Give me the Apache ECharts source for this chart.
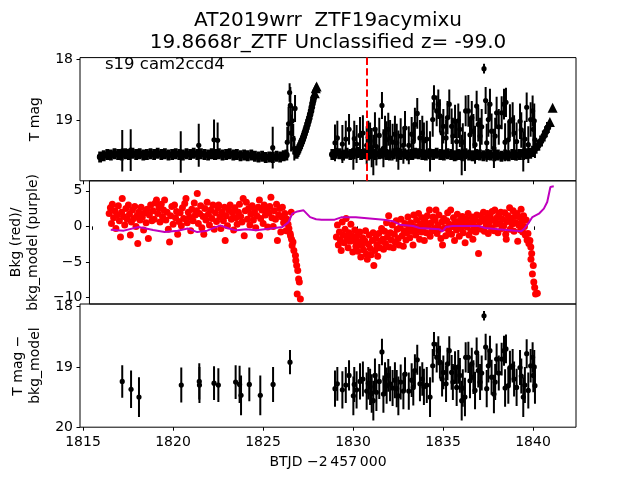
<!DOCTYPE html>
<html><head><meta charset="utf-8">
<script src="https://cdn.jsdelivr.net/npm/echarts@6/dist/echarts.min.js"></script>
<style>html,body{margin:0;padding:0;background:#fff}#c{width:640px;height:480px}</style>
</head><body><div id="c"></div>
<script>
// ---- tick labels ----
const xTicks = [1815, 1820, 1825, 1830, 1835, 1840];
const magTicksTop = [18, 19];
const bkgTicks = [-10, -5, 0, 5];
const magTicksBottom = [18, 19, 20];
const eventTime = 1830.76;
const bandErr = 0.09;

// ---- top panel: quiescent band [t, mag] ----
const band1 = [[1815.95,19.59],[1816.15,19.57],[1816.35,19.55],[1816.55,19.56],[1816.75,19.54],[1816.95,19.55],[1817.15,19.56],[1817.35,19.54],[1817.55,19.55],[1817.75,19.53],[1817.95,19.55],[1818.15,19.54],[1818.35,19.56],[1818.55,19.55],[1818.75,19.54],[1818.95,19.55],[1819.15,19.53],[1819.35,19.55],[1819.55,19.54],[1819.75,19.56],[1819.95,19.55],[1820.15,19.54],[1820.35,19.55],[1820.55,19.56],[1820.75,19.54],[1820.95,19.55],[1821.15,19.53],[1821.35,19.55],[1821.55,19.54],[1821.75,19.55],[1821.95,19.56],[1822.15,19.54],[1822.35,19.55],[1822.55,19.54],[1822.75,19.56],[1822.95,19.55],[1823.15,19.54],[1823.35,19.56],[1823.55,19.55],[1823.75,19.57],[1823.95,19.56],[1824.15,19.57],[1824.35,19.56],[1824.55,19.58],[1824.75,19.59],[1824.95,19.58],[1825.15,19.6],[1825.35,19.59],[1825.55,19.6],[1825.75,19.58],[1825.95,19.59],[1826.15,19.57],[1826.3,19.56]];
const band2 = [[1828.85,19.55],[1829.05,19.53],[1829.25,19.54],[1829.45,19.56],[1829.65,19.53],[1829.85,19.55],[1830.05,19.54],[1830.25,19.52],[1830.45,19.55],[1830.65,19.54],[1830.85,19.56],[1831.05,19.53],[1831.25,19.55],[1831.45,19.54],[1831.65,19.53],[1831.85,19.55],[1832.05,19.56],[1832.25,19.54],[1832.45,19.53],[1832.65,19.55],[1832.85,19.54],[1833.05,19.56],[1833.25,19.55],[1833.45,19.53],[1833.65,19.54],[1833.85,19.55],[1834.05,19.56],[1834.25,19.54],[1834.45,19.55],[1834.65,19.53],[1834.85,19.55],[1835.05,19.56],[1835.25,19.54],[1835.45,19.55],[1835.65,19.57],[1835.85,19.55],[1836.05,19.56],[1836.25,19.54],[1836.45,19.56],[1836.65,19.57],[1836.85,19.55],[1837.05,19.56],[1837.25,19.57],[1837.45,19.55],[1837.65,19.56],[1837.85,19.57],[1838.05,19.56],[1838.25,19.58],[1838.45,19.56],[1838.65,19.57],[1838.85,19.55],[1839.05,19.56],[1839.25,19.55]];
const rise1 = [[1826.87,19.53],[1826.92,19.5],[1826.97,19.47],[1827.02,19.44],[1827.07,19.4],[1827.12,19.37],[1827.17,19.33],[1827.22,19.29],[1827.27,19.25],[1827.32,19.2],[1827.37,19.16],[1827.42,19.11],[1827.47,19.06],[1827.52,19.01],[1827.57,18.96],[1827.62,18.9],[1827.67,18.84],[1827.71,18.78],[1827.75,18.72],[1827.79,18.67],[1827.83,18.62]];
const rise2 = [[1839.45,19.55],[1839.65,19.54],[1839.85,19.53],[1840.0,19.5],[1840.15,19.45],[1840.3,19.4],[1840.45,19.33],[1840.6,19.25],[1840.72,19.18],[1840.83,19.11]];
// upper limits [t, mag]
const limits = [[1827.88,18.55],[1827.93,18.47],[1827.98,18.44],[1840.94,19.02],[1841.09,18.79]];

// ---- detections [t, mag, err] ----
const det1Top = [[1817.18,19.49,0.34],[1817.65,19.48,0.34],[1820.43,19.51,0.34],[1821.43,19.4,0.35],[1822.28,19.31,0.33],[1822.48,19.32,0.29],[1825.54,19.44,0.34],[1826.35,19.35,0.25],[1826.42,19.05,0.28],[1826.48,18.54,0.15],[1826.52,18.75,0.3],[1826.56,19.2,0.3],[1826.62,19.0,0.25],[1826.68,19.3,0.25],[1826.78,18.8,0.22],[1826.74,19.45,0.2]];
const det1Bottom = [[1817.18,19.24,0.27],[1817.67,19.37,0.31],[1818.11,19.5,0.33],[1820.46,19.3,0.29],[1821.46,19.24,0.3],[1821.47,19.3,0.3],[1822.28,19.27,0.28],[1822.52,19.3,0.28],[1823.48,19.25,0.28],[1823.7,19.29,0.31],[1823.78,19.47,0.33],[1824.24,19.29,0.28],[1824.85,19.47,0.33],[1825.56,19.29,0.29],[1826.5,18.92,0.2]];
const det2 = [[1829.0,19.36,0.3],[1829.13,19.28,0.28],[1829.41,19.38,0.31],[1829.78,19.14,0.25],[1830.02,19.48,0.32],[1830.07,19.29,0.29],[1830.39,19.24,0.3],[1830.76,19.4,0.31],[1830.85,19.27,0.27],[1831.04,19.44,0.32],[1831.13,19.56,0.33],[1831.22,19.14,0.28],[1831.46,19.24,0.29],[1831.61,18.75,0.22],[1831.69,19.45,0.31],[1831.87,19.31,0.3],[1831.96,19.14,0.27],[1832.06,19.28,0.29],[1832.33,19.22,0.3],[1832.43,19.36,0.31],[1832.52,19.48,0.32],[1832.8,19.4,0.3],[1832.89,19.12,0.28],[1833.26,19.22,0.28],[1833.35,19.34,0.3],[1833.44,19.06,0.27],[1833.57,18.88,0.25],[1833.72,19.28,0.29],[1833.94,19.33,0.3],[1834.28,19.5,0.33],[1834.43,18.98,0.28],[1834.5,18.62,0.2],[1834.65,18.84,0.25],[1834.74,18.73,0.24],[1834.83,18.92,0.27],[1835.02,19.09,0.28],[1835.17,19.28,0.3],[1835.35,18.73,0.24],[1835.48,19.09,0.29],[1835.67,19.01,0.27],[1835.76,19.34,0.31],[1835.94,19.14,0.29],[1836.04,19.56,0.33],[1836.22,19.5,0.32],[1836.26,18.84,0.25],[1836.41,18.84,0.26],[1836.5,19.23,0.29],[1836.69,19.17,0.28],[1836.78,19.39,0.31],[1836.87,18.76,0.25],[1836.96,19.06,0.28],[1837.06,19.25,0.3],[1837.28,18.15,0.08],[1837.37,18.67,0.22],[1837.43,19.36,0.31],[1837.52,18.98,0.28],[1837.61,18.73,0.25],[1837.7,19.17,0.29],[1837.83,19.45,0.32],[1837.98,18.87,0.26],[1838.26,18.87,0.27],[1838.39,18.73,0.25],[1838.5,18.7,0.24],[1838.63,19.31,0.3],[1838.72,19.01,0.28],[1838.87,18.98,0.28],[1839.09,19.34,0.31],[1839.28,19.01,0.29],[1839.46,19.5,0.33],[1839.65,18.78,0.24],[1839.74,19.39,0.3],[1839.87,18.98,0.28],[1839.98,18.84,0.25],[1840.02,19.14,0.28],[1840.11,19.31,0.3],
[1829.6,19.3,0.3],[1830.2,19.38,0.31],[1830.55,19.2,0.29],[1830.95,19.33,0.3],[1831.3,19.42,0.31],[1831.78,19.2,0.28],[1832.2,19.35,0.3],[1832.65,19.25,0.29],[1833.1,19.4,0.31],[1833.85,19.2,0.28],[1834.1,19.3,0.3],[1834.95,19.2,0.29],[1835.25,18.95,0.27],[1835.55,19.25,0.3],[1835.85,19.0,0.28],[1836.1,19.35,0.31],[1836.6,18.95,0.27],[1837.15,19.1,0.29],[1837.9,19.25,0.3],[1838.1,19.1,0.29],[1838.45,19.35,0.31],[1838.95,19.2,0.29],[1839.35,19.15,0.29],[1839.55,19.3,0.3],[1840.07,19.0,0.28]];

// ---- middle panel: background [t, value] ----
const bkg1 = [[1815.95,1.8],[1816.02,2.6],[1816.08,0.4],[1816.13,3.1],[1816.2,1.2],[1816.27,2.2],[1816.33,-0.3],[1816.4,1.6],[1816.47,2.9],[1816.53,0.8],[1816.59,-1.5],[1816.65,2.0],[1816.69,3.9],[1816.76,1.4],[1816.83,0.2],[1816.9,2.5],[1816.97,1.0],[1817.04,3.0],[1817.1,1.7],[1817.15,-1.2],[1817.21,0.6],[1817.27,2.3],[1817.34,1.1],[1817.4,2.8],[1817.47,0.0],[1817.52,1.5],[1817.57,-2.4],[1817.63,2.0],[1817.7,0.9],[1817.76,2.7],[1817.83,1.3],[1817.9,-0.5],[1817.97,1.9],[1818.04,0.5],[1818.1,2.4],[1818.17,-1.7],[1818.23,1.6],[1818.3,3.0],[1818.37,0.8],[1818.43,2.2],[1818.5,1.0],[1818.56,3.3],[1818.63,3.7],[1818.7,1.8],[1818.77,2.6],[1818.83,0.6],[1818.9,3.1],[1818.97,1.4],[1819.03,2.3],[1819.09,3.7],[1819.16,0.9],[1819.23,2.0],[1819.3,-0.4],[1819.37,-2.2],[1819.43,1.5],[1819.5,2.8],[1819.57,0.3],[1819.65,3.0],[1819.71,1.2],[1819.77,2.1],[1819.83,-1.1],[1819.9,0.7],[1819.97,1.9],[1820.04,0.1],[1820.1,2.6],[1820.17,1.1],[1820.23,3.2],[1820.3,3.9],[1820.37,0.5],[1820.43,2.0],[1820.5,1.3],[1820.57,-0.6],[1820.63,2.4],[1820.7,0.8],[1820.77,3.3],[1820.83,1.6],[1820.9,2.2],[1820.94,4.6],[1821.0,0.4],[1821.07,1.8],[1821.13,2.9],[1821.2,-0.2],[1821.27,1.4],[1821.31,-1.1],[1821.37,2.5],[1821.43,0.9],[1821.5,3.4],[1821.57,1.7],[1821.63,0.2],[1821.7,2.3],[1821.77,1.1],[1821.83,3.0],[1821.9,-0.4],[1821.97,1.9],[1822.03,0.7],[1822.1,2.6],[1822.15,3.0],[1822.22,1.3],[1822.28,-0.3],[1822.35,2.0],[1822.42,0.8],[1822.48,2.7],[1822.52,-2.0],[1822.58,1.5],[1822.65,0.1],[1822.72,2.3],[1822.8,3.0],[1822.87,1.0],[1822.93,1.9],[1823.0,-0.5],[1823.07,2.6],[1823.13,1.2],[1823.2,0.3],[1823.27,2.0],[1823.33,3.1],[1823.4,1.4],[1823.47,0.6],[1823.54,3.9],[1823.6,-1.3],[1823.66,2.2],[1823.72,3.4],[1823.78,1.0],[1823.85,2.5],[1823.92,0.2],[1823.98,1.7],[1824.05,2.9],[1824.12,0.9],[1824.18,2.1],[1824.25,-0.2],[1824.32,1.5],[1824.39,2.7],[1824.46,3.7],[1824.47,-1.3],[1824.53,1.1],[1824.6,2.3],[1824.67,0.4],[1824.73,3.0],[1824.8,1.6],[1824.87,2.4],[1824.93,-0.1],[1825.0,1.9],[1825.05,2.8],[1825.11,4.1],[1825.17,1.2],[1825.24,0.0],[1825.3,2.2],[1825.37,1.0],[1825.43,3.1],[1825.48,-2.0],[1825.55,1.6],[1825.61,2.5],[1825.67,-0.8],[1825.73,1.3],[1825.76,2.7],[1825.83,0.5],[1825.9,1.8],[1825.97,-0.6],[1826.03,1.0],[1826.08,0.3],[1826.13,-0.3],[1826.2,-1.0],[1826.22,-1.3],[1826.26,2.0],[1826.28,-1.8],[1826.31,-2.7],[1826.36,-2.2],[1826.41,-3.4],[1826.5,-4.1],[1826.52,-4.8],[1826.57,-5.5],[1826.63,-6.2],[1826.68,-7.4],[1826.72,-7.8],[1826.6,-9.5],[1826.78,-10.2]];
const bkg2 = [[1828.82,-1.5],[1828.88,0.2],[1828.93,-2.6],[1828.99,-0.8],[1829.04,-1.9],[1829.09,-3.4],[1829.15,0.6],[1829.2,-1.2],[1829.26,-2.3],[1829.31,-0.4],[1829.37,1.1],[1829.42,-1.6],[1829.48,-3.0],[1829.53,-0.9],[1829.59,-2.1],[1829.64,0.3],[1829.7,-1.3],[1829.75,-3.6],[1829.81,-2.0],[1829.86,-0.5],[1829.92,-2.8],[1829.97,-1.4],[1830.03,-3.5],[1830.08,-2.2],[1830.14,-0.8],[1830.2,-4.3],[1830.25,-2.7],[1830.31,-1.6],[1830.36,-3.3],[1830.42,-2.0],[1830.47,-0.6],[1830.52,-3.9],[1830.57,-4.6],[1830.63,-2.5],[1830.68,-1.2],[1830.74,-3.1],[1830.79,-4.0],[1830.85,-2.0],[1830.9,-0.9],[1830.94,-5.5],[1831.0,-3.4],[1831.05,-1.7],[1831.11,-2.6],[1831.16,-4.2],[1831.22,-1.0],[1831.27,-3.0],[1831.33,-2.1],[1831.38,-0.3],[1831.44,-1.8],[1831.49,-3.2],[1831.55,-0.7],[1831.6,-2.4],[1831.66,0.5],[1831.71,-1.5],[1831.78,1.5],[1831.82,-2.9],[1831.88,-0.9],[1831.93,-1.9],[1831.99,0.2],[1832.04,-3.0],[1832.1,-1.1],[1832.15,-2.2],[1832.21,0.8],[1832.26,-0.4],[1832.32,-1.7],[1832.37,-2.6],[1832.43,-0.2],[1832.48,1.0],[1832.54,-1.3],[1832.61,-2.8],[1832.65,-0.6],[1832.7,0.4],[1832.76,-1.9],[1832.81,-0.9],[1832.87,1.3],[1832.92,-0.2],[1832.98,-1.6],[1833.03,0.5],[1833.09,-0.7],[1833.16,-2.6],[1833.2,1.6],[1833.25,0.0],[1833.31,-1.2],[1833.36,0.9],[1833.42,-0.5],[1833.47,1.8],[1833.53,-1.8],[1833.58,0.3],[1833.64,-0.8],[1833.69,1.2],[1833.75,-0.1],[1833.8,-2.0],[1833.86,0.7],[1833.91,-0.9],[1833.97,1.5],[1834.02,0.1],[1834.09,2.3],[1834.13,-1.4],[1834.19,0.5],[1834.24,-0.6],[1834.3,1.3],[1834.35,-0.3],[1834.41,0.9],[1834.46,2.3],[1834.52,-1.0],[1834.57,0.2],[1834.63,1.6],[1834.68,-0.4],[1834.74,-1.7],[1834.79,0.6],[1834.83,-2.6],[1834.9,1.1],[1834.96,-0.2],[1835.01,-1.3],[1835.07,0.8],[1835.12,1.9],[1835.18,-0.6],[1835.23,0.3],[1835.29,2.3],[1835.34,-1.1],[1835.4,0.0],[1835.45,1.2],[1835.51,-2.0],[1835.56,0.6],[1835.62,-0.5],[1835.67,1.7],[1835.73,0.2],[1835.78,-1.4],[1835.84,0.9],[1835.89,-0.3],[1835.95,1.4],[1836.0,-0.9],[1836.06,0.4],[1836.11,-2.3],[1836.17,1.0],[1836.22,-0.1],[1836.28,1.8],[1836.33,-1.2],[1836.39,0.5],[1836.44,-0.6],[1836.5,1.3],[1836.55,-1.8],[1836.61,0.1],[1836.66,0.9],[1836.72,-0.8],[1836.77,1.6],[1836.83,-0.2],[1836.87,-3.8],[1836.93,0.6],[1836.98,1.5],[1837.04,-0.4],[1837.09,0.8],[1837.15,2.0],[1837.2,-0.7],[1837.26,1.1],[1837.31,0.2],[1837.37,1.8],[1837.42,-1.0],[1837.48,0.6],[1837.53,1.4],[1837.59,-0.2],[1837.64,2.1],[1837.7,0.9],[1837.75,-0.6],[1837.79,2.3],[1837.86,0.3],[1837.91,1.2],[1837.97,-0.9],[1838.02,1.7],[1838.08,0.4],[1838.13,2.0],[1838.19,-0.3],[1838.24,1.0],[1838.3,0.1],[1838.35,1.9],[1838.41,-1.1],[1838.44,-1.8],[1838.5,0.7],[1838.55,1.5],[1838.63,2.6],[1838.66,-0.4],[1838.72,1.1],[1838.77,0.3],[1838.83,2.2],[1838.88,-0.7],[1838.94,1.4],[1838.99,0.5],[1839.05,1.8],[1839.09,-2.1],[1839.14,0.2],[1839.2,1.3],[1839.25,-0.5],[1839.28,2.4],[1839.33,0.8],[1839.37,-0.8],[1839.42,1.5],[1839.47,0.0],[1839.52,-1.2],[1839.57,0.9],[1839.62,-1.9],[1839.67,-1.0],[1839.72,-2.4],[1839.78,-2.0],[1839.83,-2.9],[1839.84,-4.6],[1839.88,-3.8],[1839.92,-6.7],[1839.97,-5.5],[1840.0,-7.8],[1840.05,-8.6],[1840.1,-9.5],[1840.2,-9.4]];
// background model [t, value]
const bkgModel = [[1816.04,-0.47],[1816.78,-0.6],[1817.61,-0.1],[1818.44,-0.5],[1819.09,-0.8],[1819.83,-0.6],[1820.39,-0.3],[1820.94,-0.8],[1821.5,-0.6],[1822.24,0.14],[1822.72,-0.3],[1823.17,-0.56],[1823.72,-0.4],[1824.28,-0.56],[1825.11,-0.3],[1825.76,-0.1],[1826.11,0.6],[1826.32,1.8],[1826.61,2.1],[1826.96,2.25],[1827.33,1.3],[1827.67,1.0],[1827.98,0.94],[1828.72,0.94],[1829.09,1.27],[1829.92,1.27],[1830.02,1.03],[1831.5,0.94],[1832.05,0.71],[1832.42,0.23],[1833.16,0.05],[1833.53,-0.23],[1834.65,-0.42],[1834.83,-0.7],[1835.02,-0.09],[1835.39,0.05],[1836.87,0.05],[1837.24,-0.23],[1837.98,-0.42],[1839.28,-0.7],[1839.46,-0.33],[1839.74,0.61],[1839.92,1.31],[1840.29,1.78],[1840.57,2.49],[1840.76,3.43],[1840.94,5.54],[1841.13,5.63]];

// ---------------- chart ----------------
const FONT = 'DejaVu Sans';
const L = 80, W = 496, H = 123.2, T0 = 57.6;
const XMIN = 1814.833, XMAX = 1842.39;
const grids = [0, 1, 2].map(i => ({left: L, top: T0 + i * H, width: W, height: H, show: true, borderColor: '#000', borderWidth: 1, backgroundColor: 'transparent'}));
const minusFmt = v => (v < 0 ? '\u2212' + Math.abs(v) : String(v));

function xAx(gi) {
  const last = gi === 2;
  return {type: 'value', gridIndex: gi, min: XMIN, max: XMAX,
    axisLine: {show: false}, splitLine: {show: false},
    axisTick: {show: true, length: 3.5, lineStyle: {color: '#000', width: 1}, customValues: xTicks},
    axisLabel: {show: last, customValues: xTicks, margin: 8, color: '#000', fontSize: 14, fontFamily: FONT, formatter: v => String(v)},
    name: last ? 'BTJD \u22122\u2009457\u2009000' : '', nameLocation: 'middle', nameGap: 28,
    nameTextStyle: {color: '#000', fontSize: 14, fontFamily: FONT}};
}
function yAx(gi, min, max, ticks, inverse, name, gap) {
  return {type: 'value', gridIndex: gi, min: min, max: max, inverse: inverse,
    axisLine: {show: false}, splitLine: {show: false},
    axisTick: {show: true, length: 3.5, lineStyle: {color: '#000', width: 1}, customValues: ticks},
    axisLabel: {customValues: ticks, margin: 7, color: '#000', fontSize: 14, fontFamily: FONT, formatter: minusFmt},
    name: name, nameLocation: 'middle', nameRotate: 90, nameGap: gap,
    nameTextStyle: {color: '#000', fontSize: 14, fontFamily: FONT, lineHeight: 17, align: 'center'}};
}

function errRender(r, lw) {
  return function (params, api) {
    const t = api.value(0), m = api.value(1), e = api.value(2);
    const c = api.coord([t, m]);
    const a = api.coord([t, m - e]);
    const b = api.coord([t, m + e]);
    return {type: 'group', children: [
      {type: 'line', shape: {x1: c[0], y1: a[1], x2: c[0], y2: b[1]}, style: {stroke: '#000', lineWidth: lw}},
      {type: 'circle', shape: {cx: c[0], cy: c[1], r: r}, style: {fill: '#000'}}
    ]};
  };
}
function errSeries(xi, data, r, lw) {
  return {type: 'custom', xAxisIndex: xi, yAxisIndex: xi, renderItem: errRender(r, lw),
    encode: {x: 0, y: 1}, data: data, silent: true, clip: true};
}

const bandData = band1.concat(rise1, band2, rise2).map(p => [p[0], p[1], bandErr]);

const option = {
  animation: false,
  backgroundColor: '#fff',
  grid: grids,
  xAxis: [xAx(0), xAx(1), xAx(2)],
  yAxis: [
    yAx(0, 17.97, 19.98, magTicksTop, true, 'T mag', 33),
    yAx(1, -10.9, 6.4, bkgTicks, false, 'Bkg (red)/\nbkg_model (purple)', 46),
    yAx(2, 17.955, 20, magTicksBottom, true, 'T mag \u2212\nbkg_model', 34)
  ],
  series: [
    errSeries(0, bandData, 3.3, 3.8),
    errSeries(0, det1Top, 2.6, 2),
    errSeries(0, det2, 2.6, 2),
    {type: 'scatter', xAxisIndex: 0, yAxisIndex: 0, data: limits, symbol: 'triangle', symbolSize: 10,
      itemStyle: {color: '#000', opacity: 1}, silent: true,
      markLine: {silent: true, symbol: 'none', label: {show: false},
        lineStyle: {color: '#ff0000', type: [7.4, 3.2], width: 2, opacity: 1},
        data: [{xAxis: eventTime}]}},
    {type: 'scatter', xAxisIndex: 1, yAxisIndex: 1, data: bkg1.concat(bkg2), symbolSize: 7,
      itemStyle: {color: '#ff0000', opacity: 1}, silent: true},
    {type: 'line', xAxisIndex: 1, yAxisIndex: 1, data: bkgModel, showSymbol: false, symbol: 'none',
      lineStyle: {color: '#bf00bf', width: 2}, z: 5, silent: true},
    errSeries(2, det1Bottom, 2.6, 2),
    errSeries(2, det2, 2.6, 2)
  ],
  graphic: [
    {type: 'text', style: {text: 'AT2019wrr  ZTF19acymixu', x: 328, y: 21, textAlign: 'center', textVerticalAlign: 'middle', font: '20px "DejaVu Sans"', fill: '#000'}, silent: true},
    {type: 'text', style: {text: '19.8668r_ZTF Unclassified z= -99.0', x: 328, y: 43, textAlign: 'center', textVerticalAlign: 'middle', font: '20px "DejaVu Sans"', fill: '#000'}, silent: true},
    {type: 'text', style: {text: 's19 cam2ccd4', x: 105, y: 65, textAlign: 'left', textVerticalAlign: 'middle', font: '16.5px "DejaVu Sans"', fill: '#000'}, silent: true}
  ]
};
const chart = echarts.init(document.getElementById('c'), null, {renderer: 'canvas'});
chart.setOption(option);
</script>
</body></html>
